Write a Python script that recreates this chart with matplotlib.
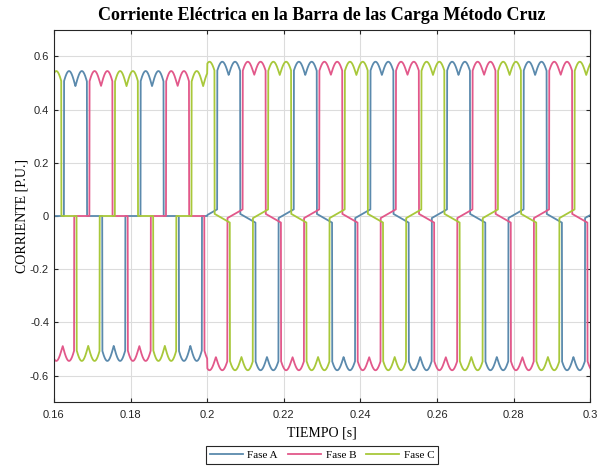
import numpy as np
import matplotlib
matplotlib.use("Agg")
import matplotlib.pyplot as plt

# Corriente de linea de un rectificador de 6 pulsos, antes y despues del cambio de carga en t = 0.2 s
fases = ["Fase A", "Fase B", "Fase C"]
colores = ["#5b8aad", "#e2588a", "#a8c83a"]

frecuencia = 50.0                 # Hz
centro_pulso_a = 0.16561          # centro del primer pulso positivo de la fase A [s]
duracion_pulso = 0.0060           # tiempo de conduccion por semiciclo [s]
t_cambio = 0.2                    # instante del cambio de carga [s]

# niveles antes / despues del cambio
nivel_pico = [0.545, 0.580]
nivel_valle = [0.488, 0.530]
rampa_inicio = [0.0, 0.008]       # corriente residual al terminar un pulso
rampa_fin = [0.0, 0.025]          # corriente antes de iniciar el siguiente pulso

t_ini, t_fin, paso = 0.16, 0.30, 5e-5


def corriente_fase(t, k):
    T = 1.0 / frecuencia
    T6 = T / 6.0
    idx = (t >= t_cambio).astype(int)
    hi = np.take(nivel_pico, idx)
    lo = np.take(nivel_valle, idx)
    ra = np.take(rampa_inicio, idx)
    rb = np.take(rampa_fin, idx)

    u = np.mod(t - centro_pulso_a - k * T / 3.0 + T / 4.0, T) - T / 4.0   # -T/4 .. 3T/4
    i = np.zeros_like(t)

    # pulso positivo centrado en u = 0, negativo en u = T/2
    for c, sgn in ((0.0, 1.0), (T / 2.0, -1.0)):
        tau = u - c
        on = np.abs(tau) <= duracion_pulso / 2.0
        i[on] = sgn * (lo[on] + (hi[on] - lo[on]) * np.abs(np.sin(np.pi * tau[on] / T6)))

    # intervalos sin conduccion
    off_len = T / 2.0 - duracion_pulso
    a = u - duracion_pulso / 2.0                       # tras el pulso positivo
    m1 = (a > 0) & (a < off_len)
    s = a[m1] / off_len
    i[m1] = ra[m1] * (1 - s) - rb[m1] * s
    b = u - T / 2.0 - duracion_pulso / 2.0             # tras el pulso negativo
    b = np.where(b < -T / 2.0, b + T, b)
    m2 = (b > 0) & (b < off_len)
    s = b[m2] / off_len
    i[m2] = -ra[m2] * (1 - s) + rb[m2] * s
    return i


t = np.arange(t_ini, t_fin + paso / 2, paso)

fig = plt.figure(figsize=(6.06, 4.66), dpi=100)
ax = fig.add_axes([0.089, 0.137, 0.885, 0.799])

for k in range(3):
    ax.plot(t, corriente_fase(t, k), color=colores[k], lw=1.3, label=fases[k])

ax.set_xlim(t_ini, t_fin)
ax.set_ylim(-0.7, 0.7)
ax.set_xticks(np.arange(0.16, 0.3001, 0.02))
ax.set_xticklabels(["0.16", "0.18", "0.2", "0.22", "0.24", "0.26", "0.28", "0.3"])
ax.set_yticks(np.arange(-0.6, 0.6001, 0.2))
ax.set_yticklabels(["-0.6", "-0.4", "-0.2", "0", "0.2", "0.4", "0.6"])
ax.tick_params(direction="in", length=3, width=0.8, top=True, right=True,
               labelsize=8, colors="#262626")
ax.tick_params(axis="x", pad=6)
for lab in ax.get_xticklabels() + ax.get_yticklabels():
    lab.set_family("Liberation Sans")
ax.grid(True, color="#dcdcdc", lw=0.8)
ax.set_axisbelow(True)
for sp in ax.spines.values():
    sp.set_color("#262626")
    sp.set_linewidth(0.8)

ax.set_title("Corriente Eléctrica en la Barra de las Carga Método Cruz",
             family="Liberation Serif", weight="bold", fontsize=13, pad=7)
ax.set_xlabel("TIEMPO [s]", family="Liberation Serif", fontsize=10, labelpad=4)
ax.set_ylabel("CORRIENTE [P.U.]", family="Liberation Serif", fontsize=10, labelpad=1)

leg = ax.legend(loc="upper center", bbox_to_anchor=(0.5, -0.118), ncol=3,
                frameon=True, fancybox=False, edgecolor="#262626", framealpha=1,
                prop={"family": "Liberation Serif", "size": 8},
                handlelength=3.0, columnspacing=0.9, handletextpad=0.4,
                borderpad=0.35, borderaxespad=0)
leg.get_frame().set_linewidth(0.8)

fig.savefig("out.png", dpi=100)
